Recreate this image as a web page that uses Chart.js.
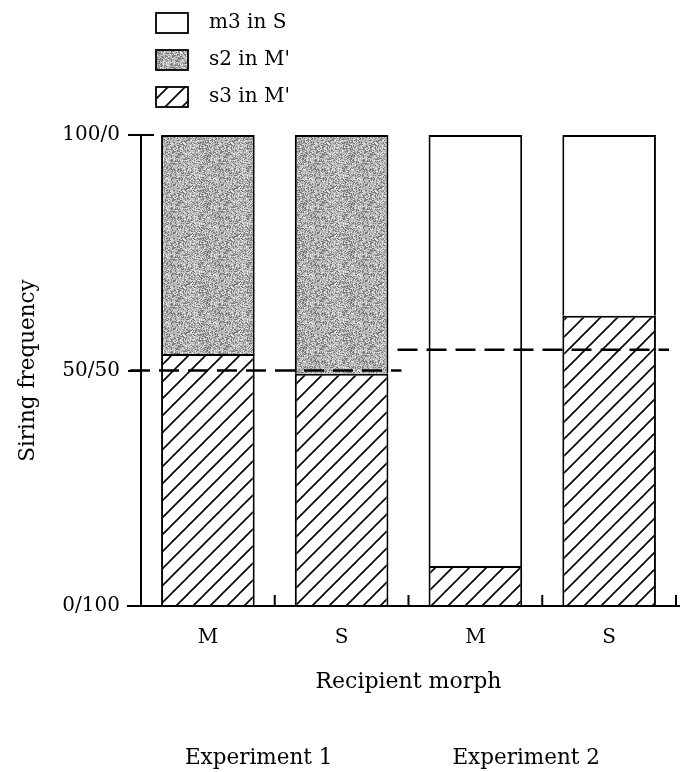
<!DOCTYPE html>
<html>
<head>
<meta charset="utf-8">
<script src="https://cdn.jsdelivr.net/npm/chart.js@4"></script>
<style>
  body { margin: 0; background: #fff; }
  canvas { display: block; }
</style>
</head>
<body>
<canvas id="siring-chart" width="681" height="772"></canvas>
<script>
// === Siring frequency by recipient morph ===

const morphs = ['M', 'S', 'M', 'S'];
const s3InM = [53.5, 49.3, 8.5, 61.6];
const s2InM = [46.5, 50.7, null, null];
const m3InS = [null, null, 91.5, 38.4];
const seriesNames = ["s3 in M'", "s2 in M'", 'm3 in S'];
const yTickValues = [0, 50, 100];
const yTickLabels = ['0/100', '50/50', '100/0'];
const experiments = ['Experiment 1', 'Experiment 2'];
const expected = [50, 54.4];

const FONT = 'DejaVu Serif';

// hatch pattern ("/" lines)
function makeHatch() {
  const s = 17;
  const c = document.createElement('canvas');
  c.width = s; c.height = s;
  const g = c.getContext('2d');
  g.fillStyle = '#fff';
  g.fillRect(0, 0, s, s);
  g.strokeStyle = '#000';
  g.lineWidth = 1.6;
  g.beginPath();
  g.moveTo(0, s); g.lineTo(s, 0);
  g.moveTo(-2, 2); g.lineTo(2, -2);
  g.moveTo(s - 2, s + 2); g.lineTo(s + 2, s - 2);
  g.stroke();
  return g.createPattern(c, 'repeat');
}

// gray stipple pattern, fixed hash so it looks the same every time
function makeStipple() {
  const s = 48;
  const c = document.createElement('canvas');
  c.width = s; c.height = s;
  const g = c.getContext('2d');
  g.fillStyle = '#bcbcbc';
  g.fillRect(0, 0, s, s);
  for (let y = 0; y < s; y++) {
    for (let x = 0; x < s; x++) {
      const h = ((x * 73856093) ^ (y * 19349663) ^ (x * y * 83492791)) >>> 0;
      const k = h % 13;
      if (k < 4) {
        g.fillStyle = '#7c7c7c';
        g.fillRect(x, y, 1, 1);
      } else if (k > 10) {
        g.fillStyle = '#e6e6e6';
        g.fillRect(x, y, 1, 1);
      }
    }
  }
  return g.createPattern(c, 'repeat');
}

const hatch = makeHatch();
const stipple = makeStipple();

const extras = {
  id: 'extras',
  afterDatasetsDraw(chart) {
    const { ctx, chartArea: area, scales: { x, y } } = chart;
    const cat = x.getPixelForValue(1) - x.getPixelForValue(0);

    ctx.save();
    ctx.strokeStyle = '#000';
    ctx.lineWidth = 2;

    // top tick runs across the axis, baseline runs past both ends
    ctx.beginPath();
    ctx.moveTo(area.left, y.getPixelForValue(100));
    ctx.lineTo(area.left + 13, y.getPixelForValue(100));
    ctx.moveTo(area.left - 14, y.getPixelForValue(0));
    ctx.lineTo(area.right + 4, y.getPixelForValue(0));
    ctx.stroke();

    // small upward ticks between categories
    ctx.beginPath();
    for (let i = 1; i <= morphs.length; i++) {
      const bx = x.getPixelForValue(i - 1) + cat / 2;
      ctx.moveTo(bx, y.getPixelForValue(0));
      ctx.lineTo(bx, y.getPixelForValue(0) - 11);
    }
    ctx.stroke();

    // dashed expected lines, one per experiment
    ctx.lineWidth = 2.5;
    ctx.setLineDash([20, 9]);
    expected.forEach((v, i) => {
      const left = x.getPixelForValue(i * 2) - cat / 2 - 11;
      const right = x.getPixelForValue(i * 2 + 1) + cat / 2 - 7;
      const py = y.getPixelForValue(v);
      ctx.beginPath();
      ctx.moveTo(left, py);
      ctx.lineTo(right, py);
      ctx.stroke();
    });
    ctx.setLineDash([]);

    // experiment labels
    ctx.fillStyle = '#000';
    ctx.font = '21.5px "' + FONT + '"';
    ctx.textAlign = 'center';
    ctx.textBaseline = 'middle';
    experiments.forEach((t, i) => {
      const cx = x.getPixelForValue(i * 2) + cat * 0.38;
      ctx.fillText(t, cx, 758);
    });

    // legend, top entry is the last dataset
    ctx.font = '20px "' + FONT + '"';
    ctx.textAlign = 'left';
    const ds = chart.data.datasets.slice().reverse();
    ds.forEach((d, i) => {
      const top = 13 + i * 37;
      ctx.fillStyle = d.backgroundColor;
      ctx.fillRect(156, top, 32, 20);
      ctx.lineWidth = 1.8;
      ctx.strokeRect(156, top, 32, 20);
      ctx.fillStyle = '#000';
      ctx.fillText(d.label, 209, top + 10);
    });
    ctx.restore();
  }
};

const lowerBorder = { top: 2, left: 2, right: 2, bottom: 0 };
const upperBorder = { top: 2, left: 2, right: 2, bottom: 0 };

new Chart(document.getElementById('siring-chart'), {
  type: 'bar',
  data: {
    labels: morphs,
    datasets: [
      { label: seriesNames[0], data: s3InM, backgroundColor: hatch, borderWidth: lowerBorder },
      { label: seriesNames[1], data: s2InM, backgroundColor: stipple, borderWidth: upperBorder },
      { label: seriesNames[2], data: m3InS, backgroundColor: '#fff', borderWidth: upperBorder }
    ]
  },
  options: {
    responsive: false,
    animation: false,
    layout: { padding: { top: 135, right: 5, left: 0, bottom: 0 } },
    datasets: {
      bar: {
        borderColor: '#000',
        borderSkipped: false,
        categoryPercentage: 1,
        barPercentage: 0.7
      }
    },
    plugins: {
      legend: { display: false },
      tooltip: { enabled: false }
    },
    scales: {
      x: {
        stacked: true,
        grid: { display: false, drawTicks: false },
        border: { display: true, color: '#000', width: 2 },
        ticks: { color: '#000', font: { family: FONT, size: 20 }, padding: 20 },
        title: {
          display: true,
          text: 'Recipient morph',
          color: '#000',
          font: { family: FONT, size: 22 },
          padding: { top: 0, bottom: 77 }
        },
        afterFit: (scale) => { scale.height = 166; }
      },
      y: {
        stacked: true,
        min: 0,
        max: 100,
        afterBuildTicks: (scale) => {
          scale.ticks = yTickValues.map(v => ({ value: v }));
        },
        grid: {
          drawOnChartArea: false,
          drawTicks: true,
          tickLength: 13,
          color: '#000',
          lineWidth: 2
        },
        border: { display: true, color: '#000', width: 2 },
        ticks: {
          color: '#000',
          font: { family: FONT, size: 20 },
          padding: 8,
          callback: (v) => yTickLabels[yTickValues.indexOf(v)]
        },
        title: {
          display: true,
          text: 'Siring frequency',
          color: '#000',
          font: { family: FONT, size: 21.5 },
          padding: { top: 16, bottom: 0 }
        },
        afterFit: (scale) => { scale.width = 141; }
      }
    }
  },
  plugins: [extras]
});
</script>
</body>
</html>
